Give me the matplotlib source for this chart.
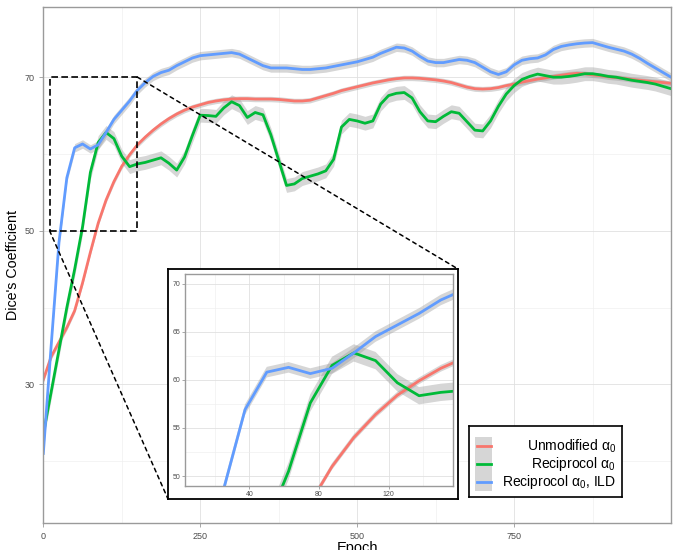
import numpy as np
import matplotlib
matplotlib.use("Agg")
import matplotlib.pyplot as plt
from matplotlib.patches import Rectangle, ConnectionPatch
from matplotlib.ticker import MultipleLocator

plt.rcParams['font.family'] = ['Liberation Sans', 'DejaVu Sans']
plt.rcParams['mathtext.fontset'] = 'custom'
plt.rcParams['mathtext.rm'] = 'Liberation Sans'

# epochs are logged every 12.5
epochs = np.arange(0, 1000.1, 12.5)

unmodified = [30.6, 33.6, 35.5, 37.4, 39.6, 43.2, 47.2, 51.0, 54.0, 56.4,
              58.4, 59.9, 61.2, 62.2, 63.1, 63.9, 64.6, 65.2, 65.7, 66.1,
              66.4, 66.7, 66.9, 67.05, 67.15, 67.2, 67.2, 67.15, 67.15, 67.15,
              67.1, 67.0, 66.9, 66.9, 67.0, 67.3, 67.6, 67.9, 68.25, 68.5,
              68.75, 69.0, 69.25, 69.45, 69.65, 69.8, 69.9, 69.9, 69.85, 69.75,
              69.65, 69.5, 69.3, 69.0, 68.7, 68.5, 68.45, 68.5, 68.65, 68.9,
              69.1, 69.35, 69.55, 69.75, 69.9, 70.1, 70.25, 70.4, 70.5, 70.45,
              70.3, 70.2, 70.05, 69.95, 69.85, 69.7, 69.6, 69.5, 69.4, 69.3,
              69.2]
reciprocol = [23.5, 29.0, 34.5, 40.0, 45.0, 50.5, 57.6, 61.5, 62.8, 62.0,
              59.7, 58.35, 58.7, 58.9, 59.2, 59.5, 58.8, 57.9, 59.6, 62.4,
              65.05, 65.0, 64.9, 66.0, 66.8, 66.3, 64.75, 65.4, 65.1, 62.5,
              59.2, 55.9, 56.1, 56.8, 57.1, 57.4, 57.8, 59.3, 63.5, 64.5,
              64.3, 64.0, 64.3, 66.5, 67.6, 67.9, 68.0, 67.3, 65.5, 64.3,
              64.2, 64.9, 65.5, 65.3, 64.2, 63.1, 63.0, 64.3, 66.2, 67.8,
              68.9, 69.7, 70.1, 70.4, 70.2, 70.0, 70.0, 70.1, 70.25, 70.45,
              70.45, 70.3, 70.1, 70.0, 69.8, 69.6, 69.45, 69.3, 69.1, 68.8,
              68.5]
reciprocol_ild = [21.0, 35.0, 48.5, 56.9, 60.8, 61.3, 60.65, 61.2, 62.8, 64.5,
                  65.7, 66.9, 68.3, 69.3, 70.1, 70.6, 70.9, 71.5, 72.0, 72.5,
                  72.8, 72.9, 73.0, 73.1, 73.2, 73.0, 72.5, 72.0, 71.5, 71.2,
                  71.2, 71.2, 71.1, 71.0, 71.0, 71.1, 71.2, 71.4, 71.6, 71.8,
                  72.0, 72.3, 72.6, 73.1, 73.5, 73.9, 73.8, 73.4, 72.7, 72.1,
                  71.9, 71.9, 72.1, 72.3, 72.2, 71.9, 71.3, 70.7, 70.35, 70.7,
                  71.6, 72.2, 72.4, 72.5, 72.9, 73.6, 74.0, 74.2, 74.35, 74.45,
                  74.5, 74.2, 73.9, 73.65, 73.4, 73.0, 72.45, 71.8, 71.2, 70.6,
                  70.0]

labels = ['Unmodified α$_0$', 'Reciprocol α$_0$', 'Reciprocol α$_0$, ILD']
colors = ['#F8766D', '#00BA38', '#619CFF']
bands = [0.35, 0.9, 0.55]
series = [unmodified, reciprocol, reciprocol_ild]

W, H = 677, 550
fig = plt.figure(figsize=(W / 100, H / 100), dpi=100)


def px(l, t, r, b):
    return [l / W, 1 - b / H, (r - l) / W, (b - t) / H]


def style(a, size):
    for s in a.spines.values():
        s.set_color('#9a9a9a')
        s.set_linewidth(1)
    a.tick_params(which='major', colors='#9a9a9a', labelcolor='#4d4d4d',
                  labelsize=size, length=3, width=0.6)
    a.tick_params(which='minor', length=0)
    a.grid(which='major', color='#e0e0e0', lw=0.6)
    a.grid(which='minor', color='#ededed', lw=0.4)
    a.set_axisbelow(True)


def draw(a):
    for y, c, b in zip(series, colors, bands):
        y = np.array(y)
        a.fill_between(epochs, y - b, y + b, color='#999999', alpha=0.4, lw=0)
        a.plot(epochs, y, color=c, lw=2)


ax = fig.add_axes(px(43.3, 7.3, 671, 523.3))
draw(ax)
ax.set_xlim(0, 1000)
ax.set_ylim(11.9, 79.1)
ax.set_xticks([0, 250, 500, 750])
ax.set_yticks([30, 50, 70])
ax.xaxis.set_minor_locator(MultipleLocator(125))
ax.yaxis.set_minor_locator(MultipleLocator(10))
style(ax, 6.5)
ax.set_xlabel('Epoch', fontsize=10.5, labelpad=0)
ax.set_ylabel("Dice's Coefficient", fontsize=10.3, labelpad=3)

ax.add_patch(Rectangle((10, 50), 140, 20, fill=False, ec='black', lw=1.2,
                       ls=(0, (4, 2)), zorder=5))

# inset frame + panel
frame = fig.add_axes(px(168, 269, 458, 499))
frame.set_xticks([])
frame.set_yticks([])
for s in frame.spines.values():
    s.set_linewidth(1.3)
    s.set_color('black')

ins = fig.add_axes(px(185, 274, 453, 485.7))
draw(ins)
ins.set_xlim(3, 157)
ins.set_ylim(49, 71)
ins.set_xticks([40, 80, 120])
ins.set_yticks([50, 55, 60, 65, 70])
ins.xaxis.set_minor_locator(MultipleLocator(20))
ins.yaxis.set_minor_locator(MultipleLocator(2.5))
style(ins, 5)
ins.tick_params(which='major', length=2, pad=1.5)

for a_pt, b_pt in [((150, 70), (1, 1)), ((10, 50), (0, 0))]:
    fig.add_artist(ConnectionPatch(xyA=a_pt, coordsA=ax.transData,
                                   xyB=b_pt, coordsB=frame.transAxes,
                                   color='black', lw=1.1, ls=(0, (2.5, 2.5))))

# legend drawn by hand so text can be right aligned like ggplot
lg = fig.add_axes(px(469, 426, 622, 497))
lg.set_xlim(0, 1)
lg.set_ylim(0, 1)
lg.set_xticks([])
lg.set_yticks([])
for s in lg.spines.values():
    s.set_linewidth(1.2)
    s.set_color('black')
lg.add_patch(Rectangle((0.039, 0.09), 0.111, 0.755, color='#d6d6d6', lw=0))
for i, (lab, c) in enumerate(zip(labels, colors)):
    yy = 0.718 - i * 0.253
    lg.plot([0.052, 0.144], [yy, yy], color=c, lw=2)
    lg.text(0.961, yy, lab, ha='right', va='center', fontsize=10)

fig.savefig('out.png', dpi=100)
